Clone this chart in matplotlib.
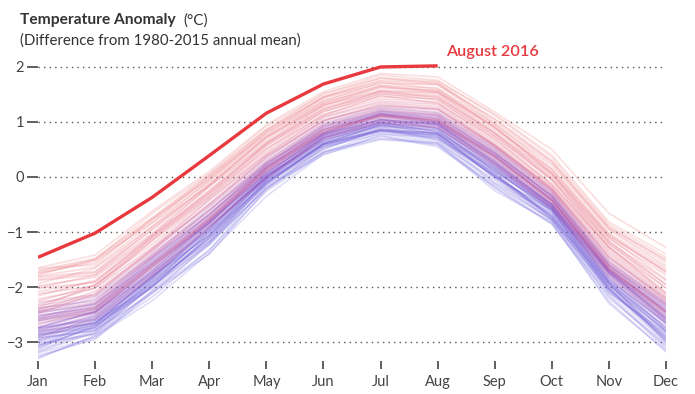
import numpy as np
import matplotlib
matplotlib.use("Agg")
import matplotlib.pyplot as plt
from matplotlib.colors import LinearSegmentedColormap

plt.rcParams['font.family'] = ['Lato', 'DejaVu Sans']

months = ['Jan', 'Feb', 'Mar', 'Apr', 'May', 'Jun',
          'Jul', 'Aug', 'Sep', 'Oct', 'Nov', 'Dec']

# 2016, only through August
year_2016 = [-1.46, -1.02, -0.37, 0.39, 1.16, 1.69, 2.00, 2.02]

# older years (coolest, blue)
blue_years = [
    [-3.28, -2.90, -2.25, -1.38, -0.35, 0.42, 0.68, 0.60, -0.25, -0.82, -2.30, -3.15],
    [-3.05, -2.86, -2.08, -1.34, -0.15, 0.45, 0.80, 0.62, -0.05, -0.80, -2.12, -3.08],
    [-3.12, -2.68, -2.02, -1.18, -0.20, 0.55, 0.78, 0.72, -0.10, -0.66, -2.08, -2.90],
    [-3.20, -2.92, -2.06, -1.24, -0.18, 0.40, 0.76, 0.58, -0.15, -0.78, -2.20, -3.05],
    [-2.92, -2.80, -1.92, -1.18, -0.05, 0.58, 0.82, 0.75, 0.04, -0.72, -1.96, -2.80],
    [-3.30, -2.88, -2.18, -1.32, -0.26, 0.44, 0.74, 0.55, -0.18, -0.84, -2.26, -3.18],
    [-3.08, -2.62, -2.00, -1.05, -0.10, 0.62, 0.92, 0.74, 0.00, -0.60, -2.02, -2.95],
    [-2.86, -2.75, -1.86, -1.12, -0.08, 0.54, 0.86, 0.80, 0.06, -0.75, -2.10, -2.84],
    [-3.15, -2.78, -2.12, -1.20, -0.22, 0.52, 0.84, 0.66, -0.12, -0.76, -2.06, -3.02],
    [-2.94, -2.78, -1.96, -1.10, -0.06, 0.56, 0.90, 0.72, 0.02, -0.70, -2.00, -2.86],
    [-2.82, -2.64, -1.80, -1.06, 0.02, 0.60, 0.95, 0.78, 0.14, -0.64, -1.90, -2.74],
    [-3.00, -2.72, -1.92, -1.00, -0.12, 0.60, 0.84, 0.76, 0.00, -0.62, -2.04, -2.90],
    [-3.25, -2.95, -2.10, -1.40, -0.22, 0.46, 0.70, 0.62, -0.20, -0.86, -2.16, -3.12],
    [-2.90, -2.65, -1.95, -0.98, -0.04, 0.66, 0.92, 0.85, 0.10, -0.55, -1.94, -2.72],
    [-3.06, -2.74, -1.90, -1.16, -0.12, 0.62, 0.86, 0.70, 0.08, -0.74, -1.95, -2.92],
    [-3.02, -2.85, -1.98, -1.22, -0.10, 0.50, 0.88, 0.68, 0.02, -0.78, -2.04, -2.95],
    [-2.76, -2.60, -1.85, -0.95, 0.05, 0.66, 1.00, 0.82, 0.18, -0.52, -1.88, -2.66],
    [-3.10, -2.72, -2.00, -1.08, -0.08, 0.58, 0.84, 0.78, 0.04, -0.68, -1.92, -3.00],
    [-2.88, -2.70, -1.88, -1.02, 0.00, 0.68, 0.94, 0.86, 0.10, -0.60, -1.92, -2.82],
    [-2.85, -2.66, -1.82, -1.06, -0.02, 0.60, 0.95, 0.78, 0.12, -0.60, -1.98, -2.80],
    [-2.98, -2.68, -1.84, -0.92, 0.00, 0.72, 0.98, 0.88, 0.15, -0.58, -1.84, -2.76],
    [-2.74, -2.58, -1.74, -0.95, 0.10, 0.70, 1.05, 0.88, 0.22, -0.50, -1.86, -2.64],
    [-3.18, -2.82, -1.98, -1.12, -0.14, 0.60, 0.86, 0.80, -0.02, -0.72, -2.02, -2.98],
    [-2.80, -2.66, -1.80, -0.98, 0.04, 0.64, 0.98, 0.82, 0.16, -0.56, -1.90, -2.78],
]

# middle years (purple core)
purple_years = [
    [-2.75, -2.46, -1.75, -0.85, 0.02, 0.76, 1.02, 0.96, 0.25, -0.52, -1.74, -2.58],
    [-2.60, -2.45, -1.60, -0.84, 0.15, 0.78, 1.12, 0.98, 0.36, -0.42, -1.72, -2.48],
    [-2.92, -2.55, -1.80, -0.90, 0.00, 0.72, 0.98, 0.92, 0.20, -0.56, -1.78, -2.65],
    [-2.52, -2.38, -1.52, -0.75, 0.20, 0.82, 1.16, 1.02, 0.42, -0.38, -1.68, -2.40],
    [-2.72, -2.45, -1.70, -0.80, 0.06, 0.78, 1.04, 0.98, 0.28, -0.50, -1.70, -2.60],
    [-2.78, -2.54, -1.70, -0.82, 0.06, 0.78, 1.04, 0.96, 0.28, -0.50, -1.74, -2.56],
    [-2.46, -2.32, -1.48, -0.70, 0.25, 0.86, 1.20, 1.06, 0.44, -0.34, -1.62, -2.36],
    [-2.84, -2.52, -1.76, -0.88, -0.02, 0.74, 1.00, 0.94, 0.24, -0.54, -1.76, -2.62],
    [-2.58, -2.42, -1.58, -0.80, 0.16, 0.80, 1.14, 1.00, 0.38, -0.40, -1.70, -2.44],
    [-2.96, -2.60, -1.82, -0.92, -0.04, 0.70, 0.96, 0.90, 0.20, -0.58, -1.82, -2.68],
    [-2.55, -2.30, -1.55, -0.68, 0.18, 0.88, 1.14, 1.08, 0.46, -0.36, -1.64, -2.42],
    [-2.66, -2.48, -1.64, -0.84, 0.12, 0.76, 1.10, 0.96, 0.30, -0.48, -1.70, -2.54],
    [-2.44, -2.22, -1.46, -0.60, 0.24, 0.94, 1.20, 1.14, 0.50, -0.30, -1.58, -2.32],
    [-2.80, -2.50, -1.72, -0.84, 0.08, 0.74, 1.06, 0.94, 0.26, -0.50, -1.75, -2.56],
    [-2.52, -2.36, -1.50, -0.66, 0.22, 0.90, 1.16, 1.10, 0.42, -0.34, -1.60, -2.38],
    [-2.56, -2.40, -1.56, -0.78, 0.18, 0.82, 1.15, 1.02, 0.40, -0.42, -1.68, -2.45],
    [-2.38, -2.25, -1.40, -0.60, 0.28, 0.96, 1.24, 1.16, 0.52, -0.28, -1.54, -2.28],
    [-2.74, -2.44, -1.66, -0.78, 0.10, 0.80, 1.08, 1.00, 0.32, -0.46, -1.72, -2.52],
    [-2.48, -2.30, -1.46, -0.68, 0.22, 0.92, 1.18, 1.12, 0.44, -0.35, -1.60, -2.34],
    [-2.88, -2.58, -1.78, -0.90, 0.00, 0.70, 1.02, 0.90, 0.24, -0.55, -1.80, -2.60],
    [-2.62, -2.38, -1.60, -0.74, 0.16, 0.86, 1.12, 1.04, 0.38, -0.42, -1.66, -2.46],
    [-2.40, -2.18, -1.42, -0.55, 0.30, 0.98, 1.26, 1.18, 0.54, -0.26, -1.52, -2.30],
    [-2.62, -2.46, -1.62, -0.80, 0.14, 0.80, 1.12, 1.00, 0.34, -0.44, -1.68, -2.50],
    [-2.34, -2.16, -1.36, -0.50, 0.34, 1.02, 1.28, 1.22, 0.56, -0.24, -1.48, -2.24],
    [-2.44, -2.28, -1.44, -0.62, 0.26, 0.92, 1.22, 1.12, 0.48, -0.32, -1.56, -2.32],
    [-2.58, -2.34, -1.58, -0.72, 0.18, 0.86, 1.12, 1.06, 0.38, -0.40, -1.62, -2.44],
    [-2.28, -2.14, -1.30, -0.52, 0.36, 1.04, 1.30, 1.24, 0.58, -0.20, -1.46, -2.20],
    [-2.68, -2.40, -1.64, -0.76, 0.12, 0.84, 1.10, 1.04, 0.36, -0.44, -1.66, -2.46],
]

# recent years (warmest, pink)
pink_years = [
    [-2.32, -2.02, -1.28, -0.40, 0.42, 1.10, 1.38, 1.32, 0.60, -0.20, -1.36, -2.18],
    [-2.48, -2.12, -1.34, -0.48, 0.38, 1.02, 1.32, 1.24, 0.56, -0.24, -1.44, -2.26],
    [-2.12, -1.98, -1.10, -0.32, 0.58, 1.18, 1.52, 1.40, 0.74, -0.06, -1.28, -2.02],
    [-2.42, -2.08, -1.32, -0.42, 0.40, 1.08, 1.35, 1.28, 0.58, -0.22, -1.40, -2.22],
    [-1.98, -1.82, -1.05, -0.18, 0.62, 1.30, 1.56, 1.52, 0.80, 0.04, -1.18, -1.88],
    [-2.22, -2.02, -1.15, -0.36, 0.52, 1.12, 1.48, 1.34, 0.70, -0.14, -1.28, -2.12],
    [-1.82, -1.72, -0.90, -0.14, 0.74, 1.34, 1.66, 1.56, 0.92, 0.08, -1.08, -1.72],
    [-2.38, -1.96, -1.22, -0.36, 0.46, 1.14, 1.42, 1.36, 0.64, -0.16, -1.32, -2.14],
    [-2.16, -1.88, -1.08, -0.24, 0.60, 1.26, 1.54, 1.48, 0.78, 0.00, -1.16, -1.96],
    [-2.02, -1.92, -1.06, -0.28, 0.62, 1.22, 1.56, 1.44, 0.80, -0.04, -1.22, -1.95],
    [-1.76, -1.52, -0.82, 0.00, 0.78, 1.44, 1.70, 1.68, 0.96, 0.22, -0.96, -1.62],
    [-2.26, -1.96, -1.16, -0.30, 0.50, 1.20, 1.46, 1.42, 0.68, -0.12, -1.26, -2.10],
    [-1.88, -1.78, -0.94, -0.16, 0.72, 1.30, 1.64, 1.54, 0.90, 0.06, -1.12, -1.78],
    [-1.86, -1.74, -0.96, -0.12, 0.70, 1.36, 1.62, 1.58, 0.88, 0.12, -1.06, -1.70],
    [-2.08, -1.90, -1.12, -0.26, 0.56, 1.24, 1.50, 1.46, 0.74, -0.04, -1.20, -2.02],
    [-1.70, -1.48, -0.74, 0.04, 0.86, 1.46, 1.80, 1.70, 1.06, 0.30, -0.90, -1.52],
    [-2.02, -1.78, -1.02, -0.16, 0.66, 1.32, 1.58, 1.54, 0.84, 0.06, -1.10, -1.86],
    [-1.80, -1.64, -0.84, -0.08, 0.80, 1.38, 1.72, 1.60, 0.96, 0.16, -1.02, -1.66],
    [-1.74, -1.56, -0.78, -0.04, 0.82, 1.46, 1.74, 1.68, 1.04, 0.28, -0.92, -1.50],
    [-1.65, -1.42, -0.62, 0.10, 0.95, 1.55, 1.88, 1.82, 1.18, 0.50, -0.66, -1.28],
    [-1.94, -1.66, -0.90, -0.06, 0.74, 1.40, 1.66, 1.62, 0.90, 0.14, -1.04, -1.74],
    [-1.72, -1.50, -0.66, 0.06, 0.92, 1.50, 1.85, 1.76, 1.12, 0.36, -0.86, -1.46],
    [-1.66, -1.60, -0.76, -0.02, 0.84, 1.44, 1.76, 1.72, 1.00, 0.26, -0.94, -1.56],
    [-1.78, -1.50, -0.76, 0.02, 0.86, 1.52, 1.80, 1.74, 1.14, 0.40, -0.82, -1.40],
]

yticks = [-3, -2, -1, 0, 1, 2]

all_years = blue_years + purple_years + pink_years
cmap = LinearSegmentedColormap.from_list(
    'yrs', ['#8580e8', '#6a4fd2', '#9a48b8', '#e4607a', '#f08c8c'])

fig = plt.figure(figsize=(6.95, 3.94), dpi=100)
ax = fig.add_axes([0.0547, 0.083, 0.9036, 0.768])

x = np.arange(len(months))
n = len(all_years)
for i, vals in enumerate(all_years):
    ax.plot(x, vals, color=cmap(i / (n - 1)), lw=1.2, alpha=0.26,
            solid_capstyle='butt', zorder=2)

ax.plot(x[:len(year_2016)], year_2016, color='#e8393e', lw=2.4,
        solid_capstyle='butt', zorder=4)
ax.text(7.15, 2.27, 'August 2016', color='#e8393e', fontsize=11.6,
        fontweight='semibold', va='center', ha='left')

for yv in yticks:
    ax.axhline(yv, color='#555555', lw=1, ls=(0, (1, 3)), zorder=1)

ax.set_xlim(0, 11)
ax.set_ylim(-3.35, 2.15)
ax.set_xticks(x)
ax.set_xticklabels(months)
ax.set_yticks(yticks)
ax.set_yticklabels([str(v).replace('-', '\u2212') for v in yticks])
for s in ax.spines.values():
    s.set_visible(False)
ax.tick_params(axis='y', length=8, width=1.2, color='#444444',
               labelcolor='#444444', labelsize=10.5, pad=2)
ax.tick_params(axis='x', length=6, width=1.2, color='#444444',
               labelcolor='#444444', labelsize=10.5, pad=4)

fig.text(0.0288, 0.949, 'Temperature Anomaly', fontsize=11.2,
         fontweight='bold', color='#333333', va='center')
fig.text(0.264, 0.949, '(\u00b0C)', fontsize=11, color='#333333', va='center')
fig.text(0.0288, 0.896, '(Difference from 1980-2015 annual mean)',
         fontsize=10.8, color='#333333', va='center')

fig.savefig('out.png', dpi=100)
